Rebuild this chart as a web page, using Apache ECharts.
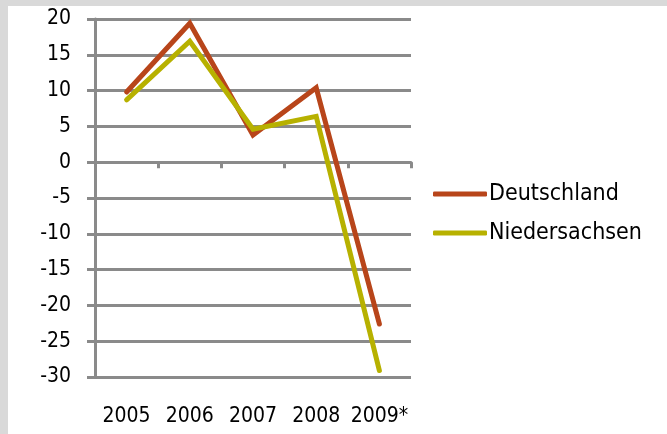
<!DOCTYPE html>
<html><head><meta charset="utf-8">
<script src="https://cdn.jsdelivr.net/npm/echarts@6/dist/echarts.min.js"></script>
<style>
html,body{margin:0;padding:0;background:#d9d9d9;width:667px;height:434px;overflow:hidden}
#c{position:absolute;left:8px;top:6px;width:659px;height:428px;background:#fff}
</style></head><body><div id="c"></div>
<script>
const categories = ['2005','2006','2007','2008','2009*'];
const deutschland = [9.8, 19.4, 3.8, 10.4, -22.6];
const niedersachsen = [8.7, 16.9, 4.6, 6.4, -29.1];
const yTicks = {min: -30, max: 20, interval: 5};
const gray = '#8a8a8a';
const font = '"DejaVu Sans Condensed", "DejaVu Sans"';
const chart = echarts.init(document.getElementById('c'));
chart.setOption({
  animation: false,
  grid: {left: 87, top: 13, right: 256, bottom: 57, containLabel: false},
  legend: {
    orient: 'vertical', left: 420, top: 171, itemWidth: 54, itemHeight: 5, itemGap: 15,
    icon: 'roundRect',
    textStyle: {fontFamily: font, fontSize: 23, lineHeight: 24, color: '#000', padding: [0,0,0,-3]},
    data: ['Deutschland', 'Niedersachsen']
  },
  xAxis: [{
    type: 'category', data: categories, boundaryGap: true,
    axisLine: {onZero: true, lineStyle: {color: gray, width: 3}},
    axisTick: {show: true, length: 6, interval: 0, lineStyle: {color: gray, width: 3}},
    axisLabel: {show: false}, splitLine: {show: false}
  },{
    type: 'category', data: categories, boundaryGap: true, position: 'bottom',
    axisLine: {show: false, onZero: false}, axisTick: {show: false},
    axisLabel: {show: true, margin: 29, fontFamily: font, fontSize: 21, color: '#000', interval: 0}
  }],
  yAxis: {
    type: 'value', min: yTicks.min, max: yTicks.max, interval: yTicks.interval,
    axisLine: {show: true, lineStyle: {color: gray, width: 3}},
    axisTick: {show: true, length: 8, lineStyle: {color: gray, width: 3}},
    splitLine: {show: true, lineStyle: {color: gray, width: 3}},
    axisLabel: {fontFamily: font, fontSize: 21, color: '#000', margin: 24}
  },
  series: [
    {name: 'Deutschland', type: 'line', data: deutschland, showSymbol: false, symbol: 'none',
     itemStyle: {color: '#b8451a'}, lineStyle: {color: '#b8451a', width: 5, cap: 'round', join: 'miter'}},
    {name: 'Niedersachsen', type: 'line', data: niedersachsen, showSymbol: false, symbol: 'none',
     itemStyle: {color: '#b7b100'}, lineStyle: {color: '#b7b100', width: 5, cap: 'round', join: 'miter'}}
  ]
});
</script></body></html>
